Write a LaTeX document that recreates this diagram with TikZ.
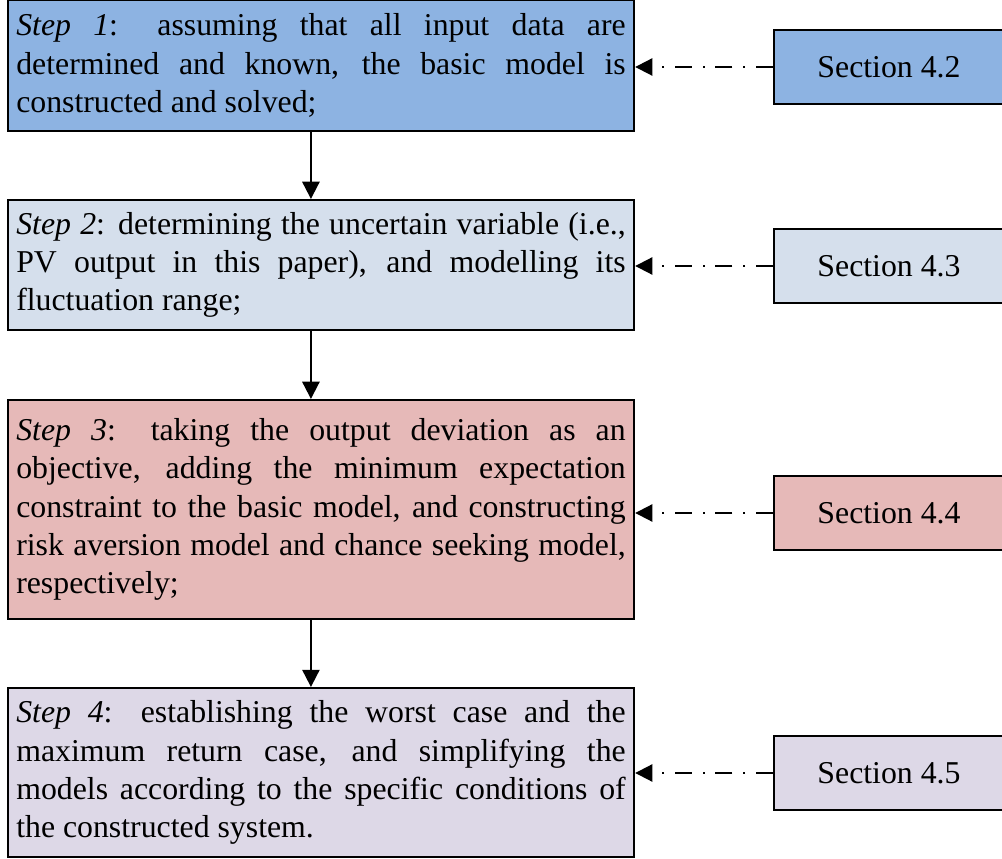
\documentclass[tikz,border=0pt]{standalone}
\usepackage{fontspec}
\setmainfont{Liberation Serif}
\usetikzlibrary{arrows.meta}

\definecolor{stepone}{HTML}{8DB3E2}
\definecolor{steptwo}{HTML}{D5DFEC}
\definecolor{stepthree}{HTML}{E6B9B8}
\definecolor{stepfour}{HTML}{DDD8E7}

\begin{document}
\begin{tikzpicture}
		[x=0.3774pt,y=-0.3774pt,
		stepbox/.style={draw,line width=0.75pt,font={\fontsize{12}{14.4}\selectfont\hyphenpenalty=10000\relax},text width=230pt,inner xsep=3.2pt,align=justify},
		secbox/.style={draw,line width=0.75pt,font=\fontsize{12}{14.4}\selectfont,minimum width=86.8pt,minimum height=27.9pt},
		flow/.style={-{Triangle[length=6.5pt,width=6.5pt]},line width=0.75pt},
		refline/.style={flow,dash pattern=on 6.5pt off 4pt on 0.8pt off 4pt}]
		\clip (0,0) rectangle (1002,859);

		\node[stepbox,fill=stepone,minimum height=49.4pt] (s1) at (321,65.5) {\textit{Step 1}: assuming that all input data are\linebreak determined and known, the basic model is\linebreak constructed and solved;};
		\node[stepbox,fill=steptwo,minimum height=49.1pt] (s2) at (321,265) {\textit{Step 2}: determining the uncertain variable (i.e.,\linebreak PV output in this paper), and modelling its\linebreak fluctuation range;};
		\node[stepbox,fill=stepthree,minimum height=82.7pt] (s3) at (321,509.5) {\textit{Step 3}: taking the output deviation as an\linebreak objective, adding the minimum expectation\linebreak constraint to the basic model, and constructing\linebreak risk aversion model and chance seeking model,\linebreak respectively;};
		\node[stepbox,fill=stepfour,minimum height=63.8pt] (s4) at (321,772.5) {\textit{Step 4}: establishing the worst case and the\linebreak maximum return case, and simplifying the\linebreak models according to the specific conditions of\linebreak the constructed system.};

		\node[secbox,fill=stepone] (sec1) at (889,67) {Section 4.2};
		\node[secbox,fill=steptwo] (sec2) at (889,266) {Section 4.3};
		\node[secbox,fill=stepthree] (sec3) at (889,513) {Section 4.4};
		\node[secbox,fill=stepfour] (sec4) at (889,773) {Section 4.5};

		\draw[flow] ([xshift=-3.8pt]s1.south) -- ([xshift=-3.8pt]s2.north);
		\draw[flow] ([xshift=-3.8pt]s2.south) -- ([xshift=-3.8pt]s3.north);
		\draw[flow] ([xshift=-3.8pt]s3.south) -- ([xshift=-3.8pt]s4.north);

		\draw[refline] (sec1.west) -- (s1.east |- sec1.west);
		\draw[refline] (sec2.west) -- (s2.east |- sec2.west);
		\draw[refline] (sec3.west) -- (s3.east |- sec3.west);
		\draw[refline] (sec4.west) -- (s4.east |- sec4.west);

	\end{tikzpicture}
\end{document}
